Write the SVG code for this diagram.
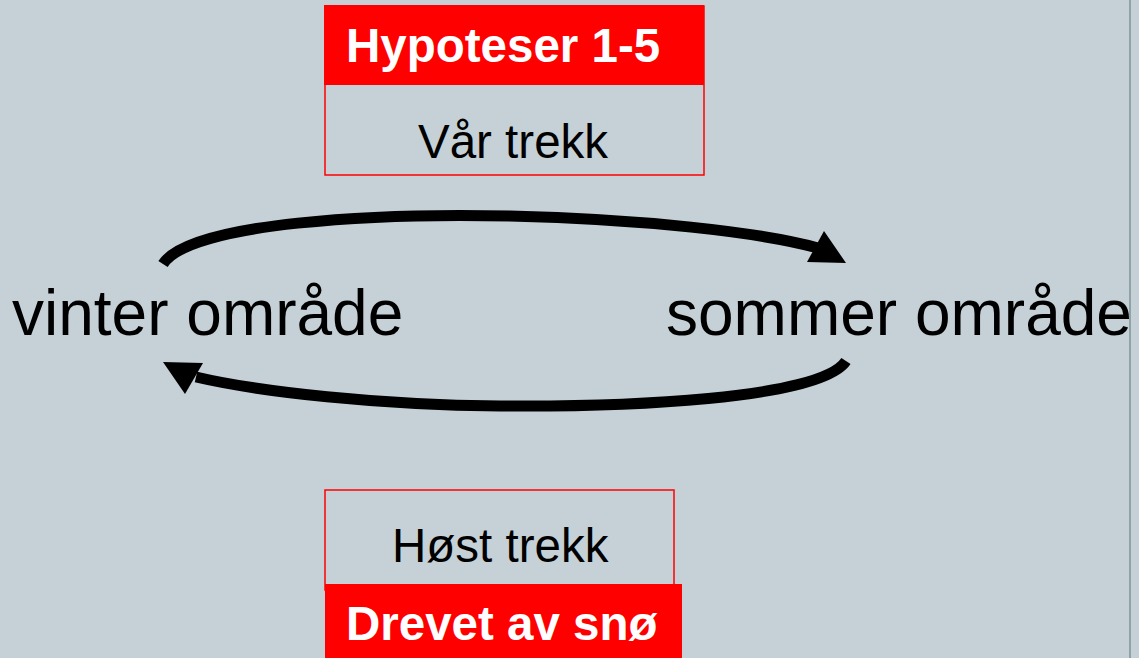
<svg xmlns="http://www.w3.org/2000/svg" width="1139" height="658" viewBox="0 0 1139 658">
  <style>
    .t { font-family: "Liberation Sans", Arial, sans-serif; }
    .b { font-weight: bold; fill: #FFFFFF; font-size: 47.5px; }
    .n { fill: #000000; font-size: 47.5px; }
    .big { fill: #000000; font-size: 64px; }
    .frame { fill: none; stroke: #FF0000; stroke-width: 1.5; }
    .band { fill: #FF0000; }
    .arc { fill: none; stroke: #000000; stroke-width: 11; stroke-linecap: butt; }
    .head { fill: #000000; }
  </style>
  <rect x="0" y="0" width="1139" height="658" fill="#C5D1D7"/>
  <line x1="1130" y1="0" x2="1130" y2="658" stroke="#90A4A8" stroke-width="2"/>

  <g id="node-var-trekk">
    <rect class="frame" x="325" y="6" width="379" height="169"/>
    <rect class="band" x="324" y="5" width="380" height="80"/>
    <text class="t b" x="346" y="62">Hypoteser 1-5</text>
    <text class="t n" x="418" y="158">Vår trekk</text>
  </g>

  <g id="node-host-trekk">
    <rect class="frame" x="325" y="490" width="349" height="100"/>
    <rect class="band" x="325" y="584" width="357" height="74"/>
    <text class="t n" x="392" y="562">Høst trekk</text>
    <text class="t b" x="346" y="640">Drevet av snø</text>
  </g>

  <g id="node-vinter">
    <text class="t big" x="12" y="335">vinter område</text>
  </g>

  <g id="node-sommer">
    <text class="t big" x="666" y="335">sommer område</text>
  </g>

  <g id="connectors">
    <path class="arc" d="M163,264 C190,222 380,213 510,216 C640,219 760,232 818,248"/>
    <polygon class="head" points="824,231 807,262 846,263"/>
    <path class="arc" d="M846,361 C820,400 620,407 500,406 C380,405 260,392 196,377"/>
    <polygon class="head" points="163,362 203,363 185,394"/>
  </g>
</svg>
